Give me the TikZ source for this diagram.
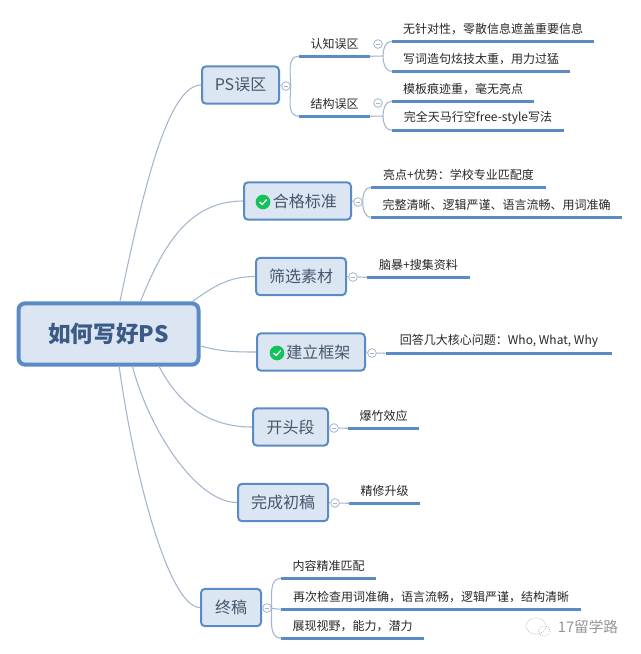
\documentclass[tikz,border=0pt]{standalone}
\usepackage{fontspec}
\setmainfont{Noto Sans CJK SC}
\definecolor{boxfill}{HTML}{DCE6F2}
\definecolor{boxline}{HTML}{5B8BC5}
\definecolor{rootink}{HTML}{3B5A86}
\definecolor{mainink}{HTML}{46566B}
\definecolor{twigline}{HTML}{A3B6CE}
\definecolor{okgreen}{HTML}{12C25A}
\begin{document}
\begin{tikzpicture}[x=0.75pt,y=0.75pt,yscale=-1,xscale=1,
  rootbox/.style={draw=boxline,fill=boxfill,line width=3pt,rounded corners=5pt,text=rootink,font=\fontsize{17}{20}\selectfont\bfseries,minimum width=135pt,minimum height=46pt,inner sep=0pt},
  mainbox/.style={draw=boxline,fill=boxfill,line width=1.5pt,rounded corners=3pt,text=mainink,font=\fontsize{12}{14}\selectfont,minimum width=#1*0.75pt,minimum height=28pt,inner sep=0pt},
  leaf/.style={minimum width=#1*0.75pt,minimum height=18pt,inner sep=0pt,text=black!85,font=\fontsize{9}{11}\selectfont},
  leafline/.style={draw=boxline,line width=2pt},
  branch/.style={draw=twigline,line width=0.8pt},
  twig/.style={draw=twigline,line width=0.8pt},
  foldmark/.style={circle,draw=twigline,fill=white,line width=0.6pt,minimum size=6.5pt,inner sep=0pt,path picture={\draw[twigline,line width=0.5pt] ([xshift=-1.8pt]path picture bounding box.center) -- ([xshift=1.8pt]path picture bounding box.center);}},
  okmark/.style={circle,fill=okgreen,minimum size=11pt,inner sep=0pt,path picture={\draw[white,line width=1pt] ([xshift=-2.6pt]path picture bounding box.center) -- ([xshift=-0.6pt,yshift=-1.8pt]path picture bounding box.center) -- ([xshift=2.8pt,yshift=1.8pt]path picture bounding box.center);}}]
\useasboundingbox (0,0) rectangle (640,654);
% Root
\node[rootbox] (root) at (108.5,334) {如何写好PS};
% Main topics
\node[mainbox=77] (wuqu) at (240.5,85) {PS误区};
\node[mainbox=107] (hege) at (297.5,201) {\hspace{11pt}合格标准};
\node[mainbox=90] (shaixuan) at (301,276.5) {筛选素材};
\node[mainbox=108] (kuangjia) at (311,352) {\hspace{11pt}建立框架};
\node[mainbox=75] (kaitou) at (290.5,427) {开头段};
\node[mainbox=90] (chugao) at (283,502.5) {完成初稿};
\node[mainbox=60] (zhonggao) at (231,607.5) {终稿};
% Icons
\node[okmark] (hegeok) at (263,202) {};
\node[okmark] (kuangjiaok) at (277,353) {};
% Fold marks
\node[foldmark] (wuqudot) at (286,86) {};
\node[foldmark] (renzhidot) at (378,44) {};
\node[foldmark] (jiegoudot) at (378,103) {};
\node[foldmark] (hegedot) at (358,202) {};
\node[foldmark] (shaixuandot) at (353,277) {};
\node[foldmark] (kuangjiadot) at (372,353) {};
\node[foldmark] (kaitoudot) at (334,428) {};
\node[foldmark] (chugaodot) at (335,503) {};
\node[foldmark] (zhonggaodot) at (267,608) {};
% Leaves
\node[leaf=71] (renzhi) at (334.5,44) {认知误区};
\node[leaf=71] (jiegou) at (334.5,104) {结构误区};
\node[leaf=202] (wuzhen) at (493,29) {无针对性，零散信息遮盖重要信息};
\node[leaf=178] (xieci) at (481,59) {写词造句炫技太重，用力过猛};
\node[leaf=142] (muban) at (463,89) {模板痕迹重，毫无亮点};
\node[leaf=172] (tianma) at (478,118) {完全天马行空free-style写法};
\node[leaf=175] (liangdian) at (458.5,175) {亮点+优势：学校专业匹配度};
\node[leaf=250] (wanzheng) at (496.5,205) {完整清晰、逻辑严谨、语言流畅、用词准确};
\node[leaf=103] (naobao) at (418.5,265) {脑暴+搜集资料};
\node[leaf=226] (huida) at (499,341) {回答几大核心问题：Who, What, Why};
\node[leaf=70] (baozhu) at (383.5,416) {爆竹效应};
\node[leaf=70] (jingxiu) at (384.5,491) {精修升级};
\node[leaf=94] (neirong) at (328.5,566) {内容精准匹配};
\node[leaf=300] (zaici) at (431,597) {再次检查用词准确，语言流畅，逻辑严谨，结构清晰};
\node[leaf=142] (zhanxian) at (352.5,626) {展现视野，能力，潜力};
\foreach \n in {renzhi,jiegou,wuzhen,xieci,muban,tianma,liangdian,wanzheng,naobao,huida,baozhu,jingxiu,neirong,zaici,zhanxian}
  \draw[leafline] (\n.south west) -- (\n.south east);
% Root to main topics
\draw[branch] ([xshift=8.6pt]root.north) to[out=-78,in=180,in looseness=0.4] (wuqu.west);
\draw[branch] ([xshift=24pt]root.north) to[out=-68,in=180] (hege.west);
\draw[branch] ([xshift=63pt]root.north) to[out=-35,in=180] (shaixuan.west);
\draw[branch] ([yshift=9pt]root.east) to[out=15,in=180] (kuangjia.west);
\draw[branch] ([xshift=38pt]root.south) to[out=62,in=180] (kaitou.west);
\draw[branch] ([xshift=18pt]root.south) to[out=75,in=180,in looseness=0.6] (chugao.west);
\draw[branch] ([xshift=8pt]root.south) to[out=82,in=180,out looseness=1.2,in looseness=0.3] (zhonggao.west);
% Main topics to leaves
\draw[twig] (wuqu.east) -- (wuqudot);
\draw[twig] (wuqudot.east) to[out=-90,in=180] (renzhi.south west);
\draw[twig] (wuqudot.east) to[out=90,in=180] (jiegou.south west);
\coordinate (renzhihub) at (383,56);
\coordinate (jiegouhub) at (383,116);
\draw[twig] (renzhi.south east) -- (renzhihub);
\draw[twig] (jiegou.south east) -- (jiegouhub);
\draw[twig] (renzhihub) to[out=-90,in=180] (wuzhen.south west);
\draw[twig] (renzhihub) to[out=90,in=180] (xieci.south west);
\draw[twig] (jiegouhub) to[out=-90,in=180] (muban.south west);
\draw[twig] (jiegouhub) to[out=90,in=180] (tianma.south west);
\draw[twig] (hege.east) -- (hegedot);
\draw[twig] (hegedot.east) to[out=-90,in=180] (liangdian.south west);
\draw[twig] (hegedot.east) to[out=90,in=180] (wanzheng.south west);
\draw[twig] (shaixuan.east) -- (shaixuandot);
\draw[twig] (shaixuandot) -- (naobao.south west);
\draw[twig] (kuangjia.east) -- (kuangjiadot);
\draw[twig] (kuangjiadot) -- (huida.south west);
\draw[twig] (kaitou.east) -- (kaitoudot);
\draw[twig] (kaitoudot) -- (baozhu.south west);
\draw[twig] (chugao.east) -- (chugaodot);
\draw[twig] (chugaodot) -- (jingxiu.south west);
\draw[twig] (zhonggao.east) -- (zhonggaodot);
\draw[twig] (zhonggaodot.east) to[out=-90,in=180] (neirong.south west);
\draw[twig] (zhonggaodot) -- (zaici.south west);
\draw[twig] (zhonggaodot.east) to[out=90,in=180] (zhanxian.south west);
% Watermark
\draw[black!35,line width=0.5pt,densely dotted] (536,626) ellipse (10 and 8);
\draw[black!35,line width=0.5pt,densely dotted] (544,631) ellipse (6 and 5);
\node[text=black!42,font=\fontsize{11}{13}\selectfont] (mark) at (588,627) {17留学路};
\end{tikzpicture}
\end{document}
